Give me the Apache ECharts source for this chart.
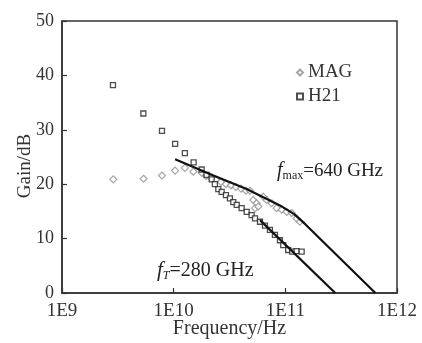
<!DOCTYPE html>
<html>
<head>
<meta charset="utf-8">
<script src="https://cdn.jsdelivr.net/npm/echarts@6/dist/echarts.min.js"></script>
<style>
  html, body { margin: 0; padding: 0; background: #fff; }
  #chart { width: 422px; height: 343px; }
</style>
</head>
<body>
<div id="chart"></div>
<script>
// values (frequency in Hz, gain in dB)
const magFreq = [2.88e9, 5.38e9, 7.86e9, 1.03e10, 1.26e10, 1.5e10, 1.78e10, 1.95e10, 2.16e10, 2.39e10,
  2.65e10, 2.94e10, 3.26e10, 3.61e10, 4.01e10, 4.44e10, 4.82e10, 5.16e10, 5.53e10, 5.35e10,
  5.72e10, 6.34e10, 6.8e10, 7.54e10, 8.36e10, 9.27e10, 1.03e11, 1.14e11, 1.26e11, 1.35e11];
const magGain = [20.9, 21.0, 21.6, 22.5, 23.0, 22.3, 22.1, 21.5, 21.1, 20.8,
  20.4, 20.0, 19.8, 19.5, 19.2, 18.8, 18.8, 17.1, 16.5, 15.6,
  15.9, 17.7, 17.1, 16.5, 15.6, 15.3, 14.9, 14.7, 13.7, 13.1];

const h21Freq = [2.86e9, 5.35e9, 7.86e9, 1.03e10, 1.26e10, 1.51e10, 1.78e10, 1.97e10, 2.19e10, 2.34e10,
  2.51e10, 2.69e10, 2.94e10, 3.19e10, 3.42e10, 3.67e10, 4.06e10, 4.51e10, 4.99e10, 5.35e10,
  5.93e10, 6.57e10, 7.28e10, 8.07e10, 8.95e10, 9.58e10, 1.06e11, 1.15e11, 1.26e11, 1.4e11];
const h21Gain = [38.2, 33.0, 29.8, 27.4, 25.7, 24.0, 22.7, 21.7, 20.9, 20.0,
  19.1, 18.6, 18.0, 17.4, 16.7, 16.2, 15.6, 14.9, 14.3, 13.7,
  13.1, 12.4, 11.6, 10.7, 9.7, 8.8, 7.9, 7.6, 7.7, 7.6];

// fitted lines
const fmaxFitFreq = [1.03e10, 2.27e10, 4.5e10, 8.95e10, 1.2e11, 1.5e11, 6.4e11];
const fmaxFitGain = [24.6, 21.6, 19.1, 16.1, 14.5, 12.7, 0];
const ftFitFreq = [5.93e10, 2.8e11];
const ftFitGain = [13.4, 0];

const xTickLabels = ['1E9', '1E10', '1E11', '1E12'];

const pairs = (xs, ys) => xs.map((x, i) => [x, ys[i]]);

const serif = "'Liberation Serif', 'Times New Roman', serif";
const chart = echarts.init(document.getElementById('chart'));

chart.setOption({
  animation: false,
  textStyle: { fontFamily: serif },
  grid: {
    left: 62, right: 25, top: 21, bottom: 50,
    outerBoundsMode: 'none',
    containLabel: false,
    show: true, borderColor: '#333', borderWidth: 1.5
  },
  legend: {
    orient: 'vertical',
    left: 291, top: 58,
    itemWidth: 6, itemHeight: 6, itemGap: 5,
    data: ['MAG', 'H21'],
    textStyle: { fontFamily: serif, fontSize: 19, color: '#333' }
  },
  xAxis: {
    type: 'log',
    logBase: 10,
    min: 1e9, max: 1e12,
    name: 'Frequency/Hz',
    nameLocation: 'middle',
    nameGap: 26,
    nameMoveOverlap: false,
    nameTextStyle: { fontFamily: serif, fontSize: 20, color: '#333' },
    axisLine: { lineStyle: { color: '#333', width: 1.5 } },
    axisTick: { inside: true, length: 5, lineStyle: { color: '#333', width: 1.2 } },
    minorTick: { show: false },
    splitLine: { show: false },
    axisLabel: {
      fontFamily: serif, fontSize: 19, color: '#333', margin: 9,
      formatter: v => xTickLabels[Math.round(Math.log10(v)) - 9]
    }
  },
  yAxis: {
    type: 'value',
    min: 0, max: 50, interval: 10,
    name: 'Gain/dB',
    nameLocation: 'middle',
    nameGap: 27,
    nameMoveOverlap: false,
    nameTextStyle: { fontFamily: serif, fontSize: 19, color: '#333', padding: [0, 18, 0, 0] },
    axisLine: { show: true, lineStyle: { color: '#333', width: 1.5 } },
    axisTick: { show: true, inside: true, length: 5, lineStyle: { color: '#333', width: 1.2 } },
    splitLine: { show: false },
    axisLabel: { fontFamily: serif, fontSize: 18, color: '#333', margin: 8 }
  },
  series: [
    {
      name: 'MAG',
      type: 'scatter',
      symbol: 'diamond',
      symbolSize: 7,
      itemStyle: { color: '#fff', borderColor: '#909090', borderWidth: 1.2 },
      data: pairs(magFreq, magGain),
      z: 2
    },
    {
      name: 'H21',
      type: 'scatter',
      symbol: 'rect',
      symbolSize: 5,
      itemStyle: { color: '#fff', borderColor: '#222', borderWidth: 1.3 },
      data: pairs(h21Freq, h21Gain),
      z: 3
    },
    {
      name: 'fmax fit',
      type: 'line',
      symbol: 'none',
      lineStyle: { color: '#111', width: 2.2 },
      data: pairs(fmaxFitFreq, fmaxFitGain),
      z: 4
    },
    {
      name: 'fT fit',
      type: 'line',
      symbol: 'none',
      lineStyle: { color: '#111', width: 2.2 },
      data: pairs(ftFitFreq, ftFitGain),
      z: 4
    }
  ],
  graphic: [
    {
      type: 'text',
      left: 277, top: 161,
      style: {
        text: '{i|f}{s|max}{n|=640 GHz}',
        rich: {
          i: { fontFamily: serif, fontSize: 20, fontStyle: 'italic', fill: '#222' },
          s: { fontFamily: serif, fontSize: 12, fill: '#222', padding: [10, 0, 0, 0] },
          n: { fontFamily: serif, fontSize: 19, fill: '#222' }
        }
      }
    },
    {
      type: 'text',
      left: 157, top: 260,
      style: {
        text: '{i|f}{s|T}{n|=280 GHz}',
        rich: {
          i: { fontFamily: serif, fontSize: 21, fontStyle: 'italic', fill: '#222' },
          s: { fontFamily: serif, fontSize: 12, fontStyle: 'italic', fill: '#222', padding: [10, 0, 0, 0] },
          n: { fontFamily: serif, fontSize: 20, fill: '#222' }
        }
      }
    }
  ]
});
</script>
</body>
</html>
